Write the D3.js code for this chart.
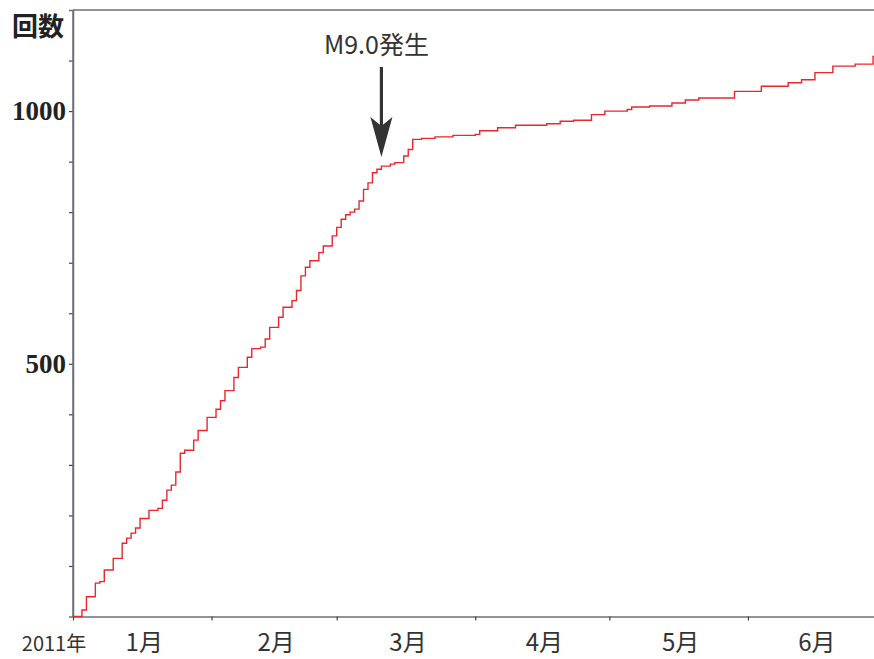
<!DOCTYPE html>
<html><head><meta charset="utf-8">
<script src="https://cdn.jsdelivr.net/npm/d3@7"></script>
<style>body{margin:0;background:#fff}svg{display:block}</style>
</head><body>
<svg id="c" width="874" height="659"></svg>
<script>
const dates = ["2011-01-01","2011-01-03","2011-01-04","2011-01-06","2011-01-07","2011-01-08","2011-01-10","2011-01-12","2011-01-13","2011-01-14","2011-01-15","2011-01-16","2011-01-18","2011-01-20","2011-01-21","2011-01-22","2011-01-23","2011-01-24","2011-01-25","2011-01-26","2011-01-28","2011-01-29","2011-01-31",
"2011-02-02","2011-02-03","2011-02-04","2011-02-06","2011-02-07","2011-02-09","2011-02-10","2011-02-12","2011-02-13","2011-02-14","2011-02-16","2011-02-17","2011-02-19","2011-02-20","2011-02-21","2011-02-22","2011-02-23","2011-02-25","2011-02-26","2011-02-28",
"2011-03-01","2011-03-02","2011-03-03","2011-03-04","2011-03-05","2011-03-06","2011-03-07","2011-03-08","2011-03-09","2011-03-10","2011-03-11","2011-03-13","2011-03-14","2011-03-16","2011-03-17","2011-03-18","2011-03-20","2011-03-23","2011-03-27",
"2011-04-01","2011-04-02","2011-04-06","2011-04-10","2011-04-17","2011-04-20","2011-04-23","2011-04-27","2011-04-30",
"2011-05-05","2011-05-06","2011-05-10","2011-05-15","2011-05-18","2011-05-21","2011-05-29",
"2011-06-04","2011-06-10","2011-06-13","2011-06-16","2011-06-20","2011-06-25","2011-06-29","2011-06-30"];
const counts = [0,13,39,66,69,92,115,145,155,165,175,194,210,214,230,250,260,286,323,329,349,368,394,
410,427,447,473,493,513,530,533,549,572,592,612,625,645,674,691,704,720,733,753,
770,786,795,800,806,822,845,858,878,885,891,895,898,911,924,944,946,949,952,
954,961,967,972,975,980,982,993,1000,
1003,1008,1010,1016,1022,1026,1039,
1049,1056,1062,1076,1089,1093,1108,1110];
const monthLabels = ["1月","2月","3月","4月","5月","6月"];
const yearLabel = "2011年";
const yTickValues = [100,200,300,400,500,600,700,800,900,1000,1100];
const yLabelValues = [500,1000];
const yTitle = "回数";
const eventDate = "2011-03-11";
const eventLabel = "M9.0発生";

const parse = d3.timeParse("%Y-%m-%d");
const data = dates.map((d,i)=>({date:parse(d), v:counts[i]}));
const svg = d3.select("#c");
const axisColor = "#6b7078";

const x = d3.scaleTime().domain([new Date(2011,0,1), new Date(2011,6,1)]).range([73, 882]);
const y = d3.scaleLinear().domain([0,1200]).range([616.5, 10]);

// top border
svg.append("line").attr("x1",73).attr("x2",874).attr("y1",10).attr("y2",10)
  .attr("stroke",axisColor).attr("stroke-width",1.5);

// y axis
const yAxis = svg.append("g").attr("transform","translate(73,0)")
  .call(d3.axisLeft(y).tickValues(yTickValues).tickSize(4).tickFormat(""));
yAxis.select(".domain").attr("stroke",axisColor).attr("stroke-width",1.5);
yAxis.selectAll(".tick line").attr("stroke","#444").attr("stroke-width",1.2);
svg.append("line").attr("x1",73).attr("x2",73).attr("y1",10).attr("y2",617)
  .attr("stroke",axisColor).attr("stroke-width",1.5);

svg.selectAll("text.ylab").data(yLabelValues).enter().append("text")
  .attr("class","ylab").attr("x",66).attr("y",d=>y(d)+9)
  .attr("text-anchor","end").attr("font-family","'Liberation Serif', serif")
  .attr("font-weight","bold").attr("font-size",27).attr("fill","#222").text(d=>d);

svg.append("text").attr("x",12).attr("y",36).attr("font-family","'Noto Sans CJK JP', sans-serif")
  .attr("font-weight","bold").attr("font-size",26).attr("fill","#222").text(yTitle);

// x axis
const months = d3.timeMonth.range(new Date(2011,0,1), new Date(2011,6,1));
const xAxis = svg.append("g").attr("transform","translate(0,616.5)")
  .call(d3.axisBottom(x).tickValues(months).tickSize(4).tickSizeOuter(0).tickFormat(""));
xAxis.select(".domain").attr("stroke",axisColor).attr("stroke-width",1.5);
xAxis.selectAll(".tick line").attr("stroke","#444").attr("stroke-width",1.2);

svg.selectAll("text.mlab").data(months).enter().append("text").attr("class","mlab")
  .attr("x",(d,i)=>(x(d)+x(d3.timeMonth.offset(d,1)))/2+2).attr("y",651)
  .attr("text-anchor","middle").attr("font-family","'Noto Sans CJK JP', sans-serif")
  .attr("font-size",24).attr("fill","#333").text((d,i)=>monthLabels[i]);

svg.append("text").attr("x",54).attr("y",651).attr("text-anchor","middle")
  .attr("font-family","'Noto Sans CJK JP', sans-serif").attr("font-size",20)
  .attr("fill","#333").text(yearLabel);

// line
const line = d3.line().x(d=>x(d.date)).y(d=>y(d.v)).curve(d3.curveStepAfter);
svg.append("path").datum(data).attr("d",line).attr("fill","none")
  .attr("stroke","#e8282c").attr("stroke-width",1.4);

// annotation
const ex = x(parse(eventDate));
svg.append("text").attr("x",ex-5).attr("y",54).attr("text-anchor","middle")
  .attr("font-family","'Noto Sans CJK JP', sans-serif").attr("font-size",25)
  .attr("fill","#333").text(eventLabel);
svg.append("line").attr("x1",ex).attr("x2",ex).attr("y1",67).attr("y2",128)
  .attr("stroke","#333").attr("stroke-width",3.2);
svg.append("path")
  .attr("d",`M${ex},157 L${ex-11},117 L${ex},126 L${ex+11},117 Z`)
  .attr("fill","#333");
</script>
</body></html>
